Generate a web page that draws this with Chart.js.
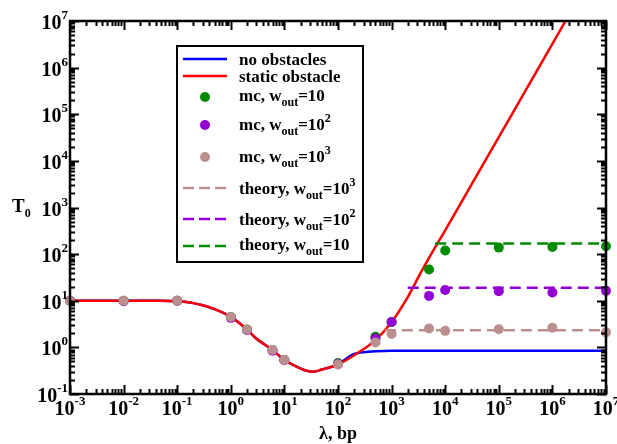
<!DOCTYPE html>
<html>
<head>
<meta charset="utf-8">
<script src="https://cdn.jsdelivr.net/npm/chart.js@4.4.0/dist/chart.umd.min.js"></script>
<style>
  html, body { margin: 0; padding: 0; background: #fff; }
  canvas { display: block; }
</style>
</head>
<body>
<canvas id="grafico" width="617" height="444"></canvas>
<script>
// curva sem obstaculos (azul) - coincide com a vermelha ate 100
const blueX = [0.001, 0.01, 0.05, 0.1, 0.2, 0.3, 0.5, 1, 2, 3, 6, 10, 17, 25, 35, 50, 100, 150, 200, 300, 500, 1000, 1e4, 1e7];
const blueY = [10, 10, 9.95, 9.7, 8.9, 8.0, 6.6, 4.5, 2.43, 1.55, 0.875, 0.535, 0.385, 0.32, 0.30, 0.335, 0.43, 0.6, 0.72, 0.79, 0.83, 0.845, 0.845, 0.845];

// obstaculo estatico (vermelho)
const redX = [0.001, 0.01, 0.05, 0.1, 0.2, 0.3, 0.5, 1, 2, 3, 6, 10, 17, 25, 35, 50, 100, 200, 500, 1000, 2000, 3500, 6000, 1e4, 1e5, 1e6, 1e7];
const redY = [10, 10, 9.95, 9.7, 8.9, 8.0, 6.6, 4.5, 2.43, 1.55, 0.875, 0.535, 0.385, 0.32, 0.30, 0.335, 0.43, 0.68, 1.43, 3.5, 12, 40, 120, 325, 32500, 3.25e6, 3.25e8];

// simulacoes mc
const mcX = [0.001, 0.01, 0.1, 1, 2, 6, 10, 100, 500, 1000, 5000, 1e4, 1e5, 1e6, 1e7];
const mcW10 = [10, 10, 10, 4.5, 2.43, 0.875, 0.535, 0.46, 1.69, 3.5, 47, 120, 138, 143, 148];
const mcW100 = [10, 9.8, 10, 4.3, 2.35, 0.85, 0.53, 0.44, 1.55, 3.5, 12.7, 17, 16, 15, 16.3];
const mcW1000 = [10, 10, 10, 4.5, 2.43, 0.875, 0.535, 0.43, 1.28, 1.93, 2.55, 2.26, 2.45, 2.63, 2.1];

// teoria (linhas tracejadas)
const theoryW10X = [6500, 1e7];
const theoryW10Y = [169, 169];
const theoryW100X = [2000, 1e7];
const theoryW100Y = [18.9, 18.9];
const theoryW1000X = [750, 1e7];
const theoryW1000Y = [2.34, 2.34];

// eixos
const xTickExp = [-3, -2, -1, 0, 1, 2, 3, 4, 5, 6, 7];
const yTickExp = [-1, 0, 1, 2, 3, 4, 5, 6, 7];

const GREEN = '#008b00';
const PURPLE = '#9400d3';
const BROWN = '#bc8f8f';
const FONT = '"Liberation Serif", "Times New Roman", serif';

function pares(xs, ys) {
    return xs.map((x, i) => ({ x: x, y: ys[i] }));
}

function linha(label, xs, ys, cor, ordem, tracejado) {
    return {
        label: label,
        data: pares(xs, ys),
        showLine: true,
        borderColor: cor,
        backgroundColor: cor,
        borderWidth: 2.5,
        borderDash: tracejado ? [11, 6] : [],
        pointRadius: 0,
        cubicInterpolationMode: 'monotone',
        order: ordem
    };
}

function pontos(label, ys, cor, ordem) {
    return {
        label: label,
        data: pares(mcX, ys),
        showLine: false,
        backgroundColor: cor,
        borderWidth: 0,
        pointRadius: 5,
        clip: false,
        order: ordem
    };
}

// desenha texto em pedacos (subscrito / sobrescrito)
function pedacos(ctx, x, y, partes) {
    partes.forEach(p => {
        ctx.font = 'bold ' + p.s + 'px ' + FONT;
        ctx.fillText(p.t, x, y + (p.dy || 0));
        x += ctx.measureText(p.t).width + (p.gap || 0);
    });
    return x;
}

function largura(ctx, partes) {
    let w = 0;
    partes.forEach(p => {
        ctx.font = 'bold ' + p.s + 'px ' + FONT;
        w += ctx.measureText(p.t).width + (p.gap || 0);
    });
    return w;
}

function potencia(exp) {
    return [{ t: '10', s: 20 }, { t: String(exp), s: 13, dy: -10 }];
}

const molduraPlugin = {
    id: 'moldura',
    afterDatasetsDraw(chart) {
        const ctx = chart.ctx;
        const a = chart.chartArea;
        const sx = chart.scales.x;
        const sy = chart.scales.y;
        ctx.save();
        ctx.strokeStyle = '#000';
        ctx.fillStyle = '#000';
        ctx.lineWidth = 2;
        ctx.beginPath();
        // ticks x (baixo e topo)
        xTickExp.forEach((e, i) => {
            for (let m = 1; m <= 9; m++) {
                if (m > 1 && i === xTickExp.length - 1) break;
                const px = Math.round(sx.getPixelForValue(m * Math.pow(10, e))) + 0.5;
                const len = m === 1 ? 9 : 5;
                ctx.moveTo(px, a.bottom); ctx.lineTo(px, a.bottom - len);
                ctx.moveTo(px, a.top); ctx.lineTo(px, a.top + len);
            }
        });
        // ticks y (esquerda e direita)
        yTickExp.forEach((e, i) => {
            for (let m = 1; m <= 9; m++) {
                if (m > 1 && i === yTickExp.length - 1) break;
                const py = Math.round(sy.getPixelForValue(m * Math.pow(10, e))) + 0.5;
                const len = m === 1 ? 9 : 5;
                ctx.moveTo(a.left, py); ctx.lineTo(a.left + len, py);
                ctx.moveTo(a.right, py); ctx.lineTo(a.right - len, py);
            }
        });
        ctx.stroke();
        ctx.lineWidth = 2.5;
        ctx.strokeRect(a.left, a.top, a.right - a.left, a.bottom - a.top);

        // rotulos dos ticks
        ctx.textBaseline = 'alphabetic';
        ctx.textAlign = 'left';
        xTickExp.forEach(e => {
            const px = sx.getPixelForValue(Math.pow(10, e));
            const partes = potencia(e);
            pedacos(ctx, px - largura(ctx, partes) / 2, 415, partes);
        });
        yTickExp.forEach(e => {
            const py = sy.getPixelForValue(Math.pow(10, e));
            const partes = potencia(e);
            pedacos(ctx, 68 - largura(ctx, partes), py + 8, partes);
        });

        // titulos dos eixos
        pedacos(ctx, 12, 212, [{ t: 'T', s: 19 }, { t: '0', s: 12, dy: 5 }]);
        ctx.font = 'bold 18px ' + FONT;
        ctx.textAlign = 'center';
        ctx.fillText('\u03bb, bp', (a.left + a.right) / 2, 439);
        ctx.restore();
    }
};

// legenda desenhada a mao por causa dos subscritos
const legendaItens = [
    { tipo: 'linha', cor: '#0000ff', y: 59, base: 65, partes: [{ t: 'no obstacles', s: 17 }] },
    { tipo: 'linha', cor: '#ff0000', y: 76, base: 82, partes: [{ t: 'static obstacle', s: 17 }] },
    { tipo: 'ponto', cor: GREEN, y: 97, base: 101, partes: [{ t: 'mc, w', s: 17 }, { t: 'out', s: 12, dy: 5 }, { t: '=10', s: 17 }] },
    { tipo: 'ponto', cor: PURPLE, y: 125, base: 130, partes: [{ t: 'mc, w', s: 17 }, { t: 'out', s: 12, dy: 5 }, { t: '=10', s: 17 }, { t: '2', s: 12, dy: -8 }] },
    { tipo: 'ponto', cor: BROWN, y: 157, base: 162, partes: [{ t: 'mc, w', s: 17 }, { t: 'out', s: 12, dy: 5 }, { t: '=10', s: 17 }, { t: '3', s: 12, dy: -8 }] },
    { tipo: 'tracejado', cor: BROWN, y: 188, base: 194, partes: [{ t: 'theory, w', s: 17 }, { t: 'out', s: 12, dy: 5 }, { t: '=10', s: 17 }, { t: '3', s: 12, dy: -8 }] },
    { tipo: 'tracejado', cor: PURPLE, y: 219, base: 225, partes: [{ t: 'theory, w', s: 17 }, { t: 'out', s: 12, dy: 5 }, { t: '=10', s: 17 }, { t: '2', s: 12, dy: -8 }] },
    { tipo: 'tracejado', cor: GREEN, y: 246, base: 250, partes: [{ t: 'theory, w', s: 17 }, { t: 'out', s: 12, dy: 5 }, { t: '=10', s: 17 }] }
];

const legendaPlugin = {
    id: 'legenda',
    afterDraw(chart) {
        const ctx = chart.ctx;
        ctx.save();
        ctx.fillStyle = '#fff';
        ctx.fillRect(177, 46, 186, 216);
        ctx.strokeStyle = '#000';
        ctx.lineWidth = 2;
        ctx.strokeRect(177, 46, 186, 216);
        legendaItens.forEach(it => {
            if (it.tipo === 'ponto') {
                ctx.fillStyle = it.cor;
                ctx.beginPath();
                ctx.arc(205, it.y, 5, 0, Math.PI * 2);
                ctx.fill();
            } else {
                ctx.strokeStyle = it.cor;
                ctx.lineWidth = 2.5;
                ctx.setLineDash(it.tipo === 'tracejado' ? [11, 5] : []);
                ctx.beginPath();
                ctx.moveTo(183, it.y);
                ctx.lineTo(227, it.y);
                ctx.stroke();
                ctx.setLineDash([]);
            }
            ctx.fillStyle = '#000';
            ctx.textAlign = 'left';
            pedacos(ctx, 239, it.base, it.partes);
        });
        ctx.restore();
    }
};

const ctx = document.getElementById('grafico').getContext('2d');
const chart = new Chart(ctx, {
    type: 'scatter',
    data: {
        datasets: [
            pontos('mc, w_out=10^3', mcW1000, BROWN, 1),
            pontos('mc, w_out=10^2', mcW100, PURPLE, 2),
            pontos('mc, w_out=10', mcW10, GREEN, 3),
            linha('theory, w_out=10^3', theoryW1000X, theoryW1000Y, BROWN, 4, true),
            linha('theory, w_out=10^2', theoryW100X, theoryW100Y, PURPLE, 5, true),
            linha('theory, w_out=10', theoryW10X, theoryW10Y, GREEN, 6, true),
            linha('static obstacle', redX, redY, '#ff0000', 7, false),
            linha('no obstacles', blueX, blueY, '#0000ff', 8, false)
        ]
    },
    options: {
        responsive: false,
        animation: false,
        events: [],
        layout: { padding: { left: 70, right: 11, top: 21, bottom: 50 } },
        scales: {
            x: { type: 'logarithmic', min: 1e-3, max: 1e7, display: false },
            y: { type: 'logarithmic', min: 1e-1, max: 1e7, display: false }
        },
        plugins: {
            legend: { display: false },
            tooltip: { enabled: false }
        }
    },
    plugins: [molduraPlugin, legendaPlugin]
});
</script>
</body>
</html>
